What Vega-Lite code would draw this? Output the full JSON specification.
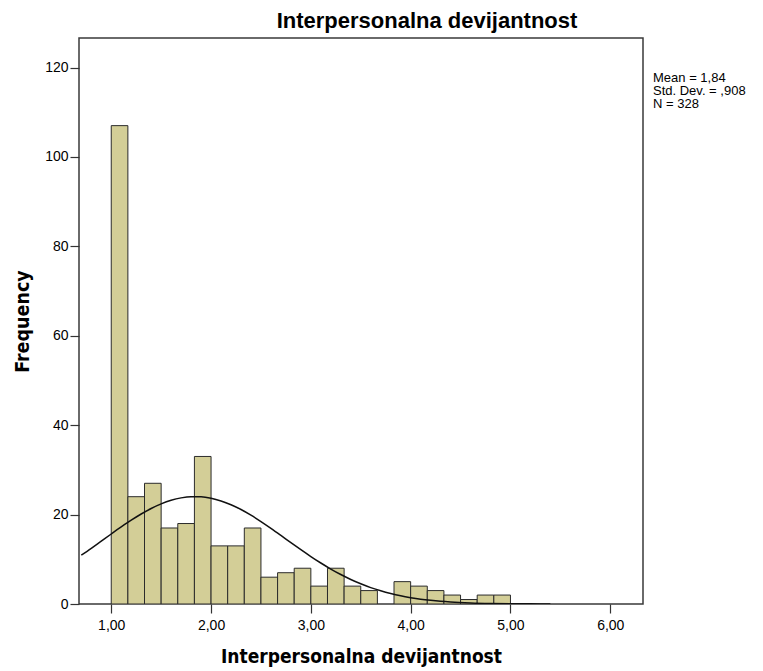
{
  "$schema": "https://vega.github.io/schema/vega-lite/v6.json",
  "autosize": "none",
  "padding": {"left": 79, "top": 38, "right": 120, "bottom": 67},
  "width": 564,
  "height": 566,
  "background": "white",
  "title": {
    "text": "Interpersonalna devijantnost",
    "font": "Liberation Sans",
    "fontSize": 22,
    "fontWeight": "bold",
    "color": "#000000",
    "anchor": "middle",
    "dx": 66,
    "dy": 22,
    "baseline": "alphabetic",
    "offset": 10
  },
  "datasets": {
    "bins": [
      {"bin_start": 1.0, "bin_end": 1.1667, "count": 107},
      {"bin_start": 1.1667, "bin_end": 1.3333, "count": 24},
      {"bin_start": 1.3333, "bin_end": 1.5, "count": 27},
      {"bin_start": 1.5, "bin_end": 1.6667, "count": 17},
      {"bin_start": 1.6667, "bin_end": 1.8333, "count": 18},
      {"bin_start": 1.8333, "bin_end": 2.0, "count": 33},
      {"bin_start": 2.0, "bin_end": 2.1667, "count": 13},
      {"bin_start": 2.1667, "bin_end": 2.3333, "count": 13},
      {"bin_start": 2.3333, "bin_end": 2.5, "count": 17},
      {"bin_start": 2.5, "bin_end": 2.6667, "count": 6},
      {"bin_start": 2.6667, "bin_end": 2.8333, "count": 7},
      {"bin_start": 2.8333, "bin_end": 3.0, "count": 8},
      {"bin_start": 3.0, "bin_end": 3.1667, "count": 4},
      {"bin_start": 3.1667, "bin_end": 3.3333, "count": 8},
      {"bin_start": 3.3333, "bin_end": 3.5, "count": 4},
      {"bin_start": 3.5, "bin_end": 3.6667, "count": 3},
      {"bin_start": 3.8333, "bin_end": 4.0, "count": 5},
      {"bin_start": 4.0, "bin_end": 4.1667, "count": 4},
      {"bin_start": 4.1667, "bin_end": 4.3333, "count": 3},
      {"bin_start": 4.3333, "bin_end": 4.5, "count": 2},
      {"bin_start": 4.5, "bin_end": 4.6667, "count": 1},
      {"bin_start": 4.6667, "bin_end": 4.8333, "count": 2},
      {"bin_start": 4.8333, "bin_end": 5.0, "count": 2}
    ],
    "curve": [
      {"x": 0.7, "y": 10.92}, {"x": 0.8, "y": 12.46}, {"x": 0.9, "y": 14.06},
      {"x": 1.0, "y": 15.66}, {"x": 1.1, "y": 17.23}, {"x": 1.2, "y": 18.74},
      {"x": 1.3, "y": 20.13}, {"x": 1.4, "y": 21.36}, {"x": 1.5, "y": 22.39},
      {"x": 1.6, "y": 23.2}, {"x": 1.7, "y": 23.74}, {"x": 1.8, "y": 24.0},
      {"x": 1.9, "y": 23.97}, {"x": 2.0, "y": 23.65}, {"x": 2.1, "y": 23.05},
      {"x": 2.2, "y": 22.2}, {"x": 2.3, "y": 21.13}, {"x": 2.4, "y": 19.86},
      {"x": 2.5, "y": 18.44}, {"x": 2.6, "y": 16.92}, {"x": 2.7, "y": 15.34},
      {"x": 2.8, "y": 13.73}, {"x": 2.9, "y": 12.15}, {"x": 3.0, "y": 10.62},
      {"x": 3.1, "y": 9.17}, {"x": 3.2, "y": 7.82}, {"x": 3.3, "y": 6.59},
      {"x": 3.4, "y": 5.49}, {"x": 3.5, "y": 4.52}, {"x": 3.6, "y": 3.67},
      {"x": 3.7, "y": 2.95}, {"x": 3.8, "y": 2.34}, {"x": 3.9, "y": 1.83},
      {"x": 4.0, "y": 1.42}, {"x": 4.1, "y": 1.08}, {"x": 4.2, "y": 0.82},
      {"x": 4.3, "y": 0.61}, {"x": 4.4, "y": 0.45}, {"x": 4.6, "y": 0.24},
      {"x": 4.8, "y": 0.12}, {"x": 5.0, "y": 0.06}, {"x": 5.2, "y": 0.03},
      {"x": 5.4, "y": 0.01}
    ],
    "stats": [
      {"stat": "Mean = 1,84"},
      {"stat": "Std. Dev. = ,908"},
      {"stat": "N = 328"}
    ]
  },
  "layer": [
    {
      "data": {"name": "bins"},
      "mark": {"type": "bar", "orient": "vertical", "fill": "#D3CE97", "stroke": "#2b2b2b", "strokeWidth": 1, "clip": true},
      "encoding": {
        "x": {
          "field": "bin_start",
          "type": "quantitative",
          "scale": {"domain": [0.727, 6.278], "nice": false, "zero": false},
          "axis": {
            "values": [1, 2, 3, 4, 5, 6],
            "format": ".2f",
            "title": "Interpersonalna devijantnost",
            "grid": false,
            "domain": false,
            "tickSize": 9,
            "tickColor": "#333333",
            "tickWidth": 1.2,
            "labelFont": "Liberation Sans",
            "labelFontSize": 14,
            "labelColor": "#000000",
            "labelPadding": 5,
            "titleFont": "DejaVu Sans Condensed",
            "titleFontSize": 19,
            "titleFontWeight": "bold",
            "titleColor": "#000000",
            "titlePadding": 15
          }
        },
        "x2": {"field": "bin_end"},
        "y": {
          "field": "count",
          "type": "quantitative",
          "scale": {"domain": [0, 126.6], "nice": false},
          "axis": {
            "values": [0, 20, 40, 60, 80, 100, 120],
            "format": "d",
            "title": "Frequency",
            "grid": false,
            "domain": false,
            "tickSize": 9,
            "tickColor": "#333333",
            "tickWidth": 1.2,
            "labelFont": "Liberation Sans",
            "labelFontSize": 14,
            "labelColor": "#000000",
            "labelPadding": 2,
            "titleFont": "DejaVu Sans Condensed",
            "titleFontSize": 19.5,
            "titleFontWeight": "bold",
            "titleColor": "#000000",
            "titlePadding": 12
          }
        },
        "y2": {"datum": 0}
      }
    },
    {
      "data": {"name": "curve"},
      "mark": {"type": "line", "color": "#111111", "strokeWidth": 1.5, "clip": true, "interpolate": "monotone"},
      "encoding": {
        "x": {"field": "x", "type": "quantitative"},
        "y": {"field": "y", "type": "quantitative"}
      }
    },
    {
      "data": {"name": "stats"},
      "mark": {"type": "point", "opacity": 0},
      "encoding": {
        "color": {
          "field": "stat",
          "type": "nominal",
          "scale": {"domain": ["Mean = 1,84", "Std. Dev. = ,908", "N = 328"], "range": ["#000000", "#000000", "#000000"]},
          "legend": {
            "orient": "none",
            "legendX": 574,
            "legendY": 34,
            "title": ["Mean = 1,84", "Std. Dev. = ,908", "N = 328"],
            "titleFont": "Liberation Sans",
            "titleFontSize": 13,
            "titleFontWeight": "normal",
            "titleColor": "#000000",
            "titleLineHeight": 13,
            "titleBaseline": "top",
            "titlePadding": 0,
            "titleLimit": 300,
            "padding": 0,
            "symbolSize": 0,
            "symbolStrokeWidth": 0,
            "symbolOpacity": 0,
            "labelExpr": "''",
            "labelOpacity": 0,
            "labelFontSize": 1,
            "rowPadding": 0
          }
        }
      }
    }
  ],
  "config": {
    "locale": {"number": {"decimal": ",", "thousands": ".", "grouping": [3], "currency": ["", ""]}},
    "view": {"fill": "#F0F0F0", "stroke": "#3a3a3a", "strokeWidth": 1.5}
  }
}
